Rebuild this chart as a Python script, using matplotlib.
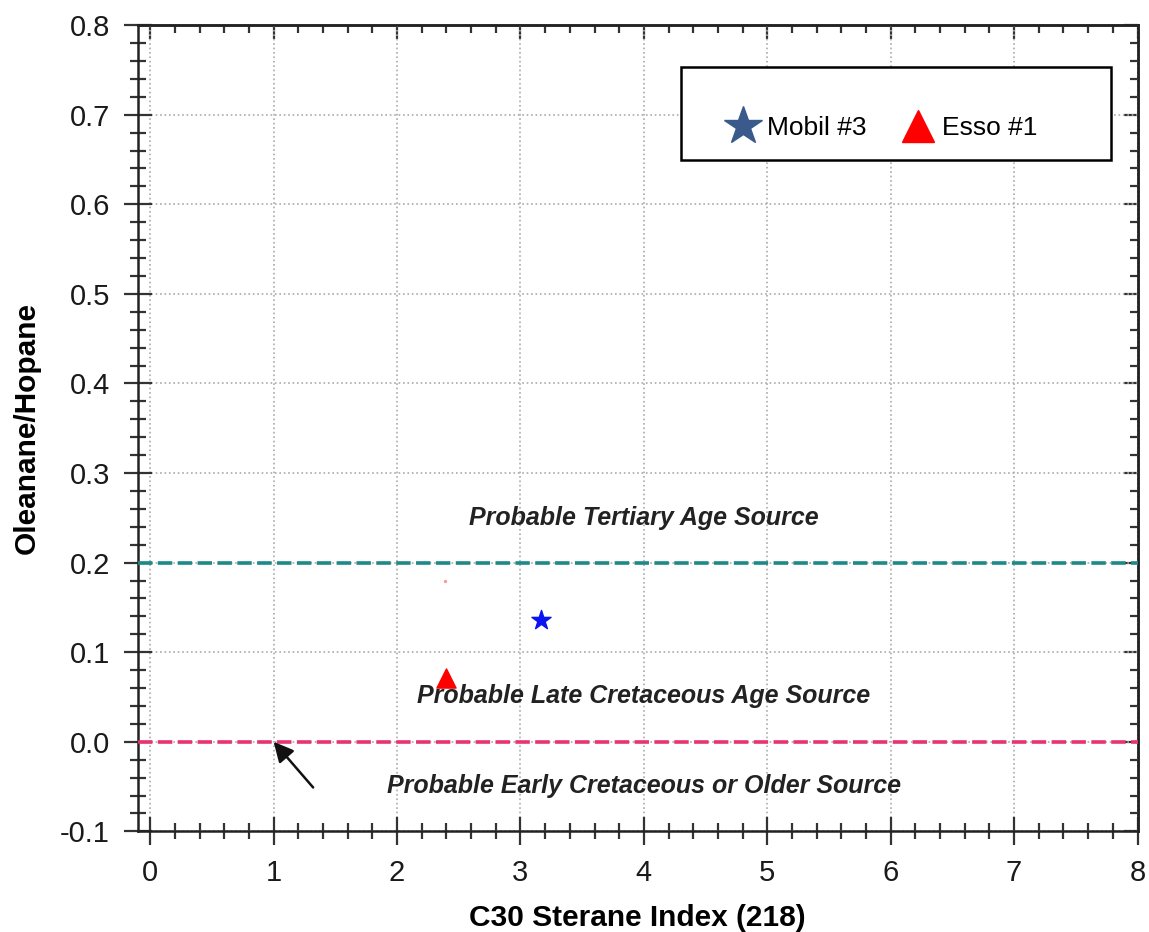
import matplotlib
matplotlib.use("Agg")
import matplotlib.pyplot as plt
from matplotlib.ticker import MultipleLocator, FormatStrFormatter
from matplotlib.lines import Line2D
from matplotlib.patches import Rectangle

plt.rcParams['font.family'] = ['Liberation Sans', 'DejaVu Sans']

# data
mobil_x = [3.17]
mobil_y = [0.136]
esso_x = [2.40]
esso_y = [0.071]
speck_x = [2.39]
speck_y = [0.180]
tertiary_limit = 0.2
cretaceous_limit = 0.0
zone_labels = ["Probable Tertiary Age Source",
               "Probable Late Cretaceous Age Source",
               "Probable Early Cretaceous or Older Source"]
zone_label_y = [0.250, 0.051, -0.049]
zone_label_x = [4.0, 4.0, 4.0]
legend_names = ['Mobil #3', 'Esso #1']

fig = plt.figure(figsize=(11.49, 9.32), dpi=100)
ax = fig.add_axes([0.120, 0.108, 0.870, 0.865])

ax.set_xlim(-0.1, 8.0)
ax.set_ylim(-0.1, 0.8)
ax.xaxis.set_major_locator(MultipleLocator(1))
ax.xaxis.set_minor_locator(MultipleLocator(0.2))
ax.yaxis.set_major_locator(MultipleLocator(0.1))
ax.yaxis.set_minor_locator(MultipleLocator(0.02))
ax.yaxis.set_major_formatter(FormatStrFormatter('%.1f'))

tc = '#333333'
# left/bottom ticks cross the spine
ax.tick_params(which='both', direction='inout', width=1.6, colors=tc, labelcolor='#1a1a1a')
ax.tick_params(which='major', length=20, labelsize=21)
ax.tick_params(axis='y', which='major', pad=10)
ax.tick_params(axis='x', which='major', pad=10)
ax.tick_params(which='minor', length=11)

# top/right ticks pointing inward
sx = ax.secondary_xaxis('top')
sy = ax.secondary_yaxis('right')
sx.xaxis.set_major_locator(MultipleLocator(1))
sx.xaxis.set_minor_locator(MultipleLocator(0.2))
sy.yaxis.set_major_locator(MultipleLocator(0.1))
sy.yaxis.set_minor_locator(MultipleLocator(0.02))
for sec in (sx, sy):
    sec.tick_params(which='both', direction='in', width=1.6, colors=tc,
                    labeltop=False, labelright=False, labelbottom=False, labelleft=False)
    sec.tick_params(which='major', length=10)
    sec.tick_params(which='minor', length=6)
    for s in sec.spines.values():
        s.set_linewidth(1.8)
        s.set_color('#222222')

for s in ax.spines.values():
    s.set_linewidth(1.8)
    s.set_color('#222222')

ax.grid(True, which='major', linestyle=':', color='#aaaaaa', linewidth=1.2)

ax.axhline(tertiary_limit, color='#1b8a88', linestyle=(0, (4, 1.5)), linewidth=2.6, zorder=3)
ax.axhline(cretaceous_limit, color='#e8336f', linestyle=(0, (4, 1.5)), linewidth=2.6, zorder=3)

for lx, ly, t in zip(zone_label_x, zone_label_y, zone_labels):
    ax.text(lx, ly, t, ha='center', va='center', fontsize=18,
            fontweight='bold', fontstyle='italic', color='#222222')

ax.scatter(mobil_x, mobil_y, marker='*', s=210, color='#0a14f0', zorder=5)
ax.scatter(esso_x, esso_y, marker='^', s=190, color='#ff0000', zorder=5)
ax.scatter(speck_x, speck_y, marker='o', s=2, color='#ff9999', zorder=5)

ax.annotate('', xy=(1.0, 0.0), xytext=(1.32, -0.051),
            arrowprops=dict(arrowstyle='-|>', color='#111111', lw=1.8,
                            mutation_scale=30, shrinkA=0, shrinkB=0), zorder=6)

ax.set_xlabel('C30 Sterane Index (218)', fontsize=21.5, fontweight='bold', labelpad=12)
ax.set_ylabel('Oleanane/Hopane', fontsize=21.5, fontweight='bold', labelpad=14)

# legend box
ax.add_patch(Rectangle((0.543, 0.8325), 0.430, 0.1155, transform=ax.transAxes,
                       facecolor='white', edgecolor='black', linewidth=1.8, zorder=7))
handles = [Line2D([], [], marker='*', linestyle='none', markersize=29, color='#3a5a8c'),
           Line2D([], [], marker='^', linestyle='none', markersize=23, color='#ff0000')]
leg = ax.legend(handles, legend_names, ncol=2, frameon=False, fontsize=19,
                loc='center left', bbox_to_anchor=(0.590, 0.872), borderpad=0,
                borderaxespad=0, handletextpad=0.3, columnspacing=1.36, handlelength=1.2)
leg.set_zorder(8)

fig.savefig('out.png', dpi=100)
